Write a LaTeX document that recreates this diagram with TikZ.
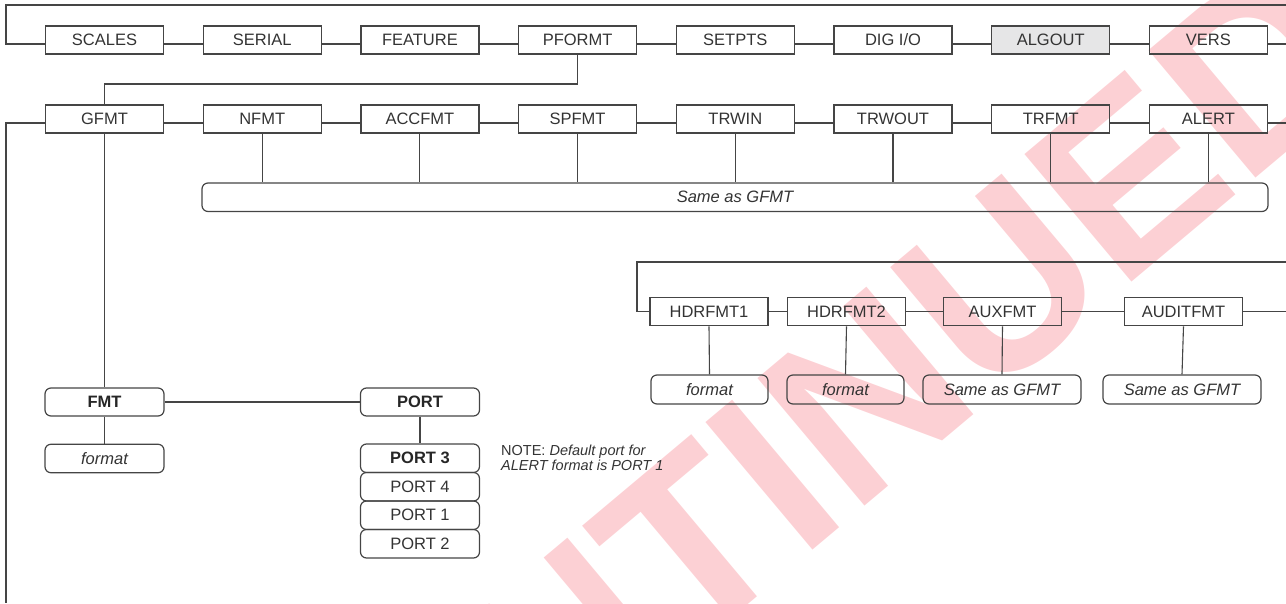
\documentclass[tikz,border=0pt]{standalone}
\usepackage{fontspec}
\setmainfont{Liberation Sans}
\usetikzlibrary{calc}
\definecolor{txt}{HTML}{333333}
\definecolor{ln}{HTML}{454545}
\definecolor{wm}{RGB}{252,208,212}
\definecolor{hl}{HTML}{E6E6E7}
\begin{document}
\begin{tikzpicture}[x=1pt,y=-1pt,
  menubox/.style={draw=ln, line width=1.2pt, minimum width=118pt, minimum height=28pt,
    inner sep=0pt, text=txt, font=\fontsize{16.5}{18}\selectfont},
  optbox/.style={menubox, rounded corners=6pt},
  valbox/.style={optbox, font=\fontsize{16.5}{18}\selectfont\itshape},
  boldbox/.style={optbox, font=\fontsize{16.5}{18}\selectfont\bfseries, text=black!85},
  conn/.style={draw=ln, line width=1.1pt}]
\useasboundingbox (0,0) rectangle (1286,603);
% watermark
\begin{scope}
  \clip (0,0) rectangle (1286,603);
  \node[anchor=base, rotate=40, text=wm, inner sep=0pt,
    font=\fontsize{242}{242}\selectfont\bfseries] (wmk) at (672,668) {DISCONTINUED};
\end{scope}
% free-end coordinates
\coordinate (redge) at (1286,0);
\coordinate (ltop) at (6,5);
\coordinate (lbot) at (6,603);
\coordinate (pg) at (0,84);
\coordinate (bt) at (637,262);
% row 1
\node[menubox] (scales)  at (104.5,40) {SCALES};
\node[menubox] (serial)  at (262.2,40) {SERIAL};
\node[menubox] (feature) at (419.9,40) {FEATURE};
\node[menubox] (pformt)  at (577.6,40) {PFORMT};
\node[menubox] (setpts)  at (735.3,40) {SETPTS};
\node[menubox] (digio)   at (893,40) {DIG I/O};
\node[menubox, fill=hl] (algout) at (1050.7,40) {ALGOUT};
\node[menubox] (vers)    at (1208.4,40) {VERS};
\draw[conn] ([yshift=-4pt]scales.west) -| (ltop) -- (ltop -| redge);
\draw[conn] ([yshift=-4pt]scales.east) -- ([yshift=-4pt]serial.west);
\draw[conn] ([yshift=-4pt]serial.east) -- ([yshift=-4pt]feature.west);
\draw[conn] ([yshift=-4pt]feature.east) -- ([yshift=-4pt]pformt.west);
\draw[conn] ([yshift=-4pt]pformt.east) -- ([yshift=-4pt]setpts.west);
\draw[conn] ([yshift=-4pt]setpts.east) -- ([yshift=-4pt]digio.west);
\draw[conn] ([yshift=-4pt]digio.east) -- ([yshift=-4pt]algout.west);
\draw[conn] ([yshift=-4pt]algout.east) -- ([yshift=-4pt]vers.west);
\draw[conn] ([yshift=-4pt]vers.east) -- ([yshift=-4pt]vers.east -| redge);
% row 2
\node[menubox] (gfmt)   at (104.5,119) {GFMT};
\node[menubox] (nfmt)   at (262.2,119) {NFMT};
\node[menubox] (accfmt) at (419.9,119) {ACCFMT};
\node[menubox] (spfmt)  at (577.6,119) {SPFMT};
\node[menubox] (trwin)  at (735.3,119) {TRWIN};
\node[menubox] (trwout) at (893,119) {TRWOUT};
\node[menubox] (trfmt)  at (1050.7,119) {TRFMT};
\node[menubox] (alert)  at (1208.4,119) {ALERT};
\draw[conn] (pformt.south) -- (pformt.south |- pg) -| (gfmt.north);
\draw[conn] ([yshift=-4pt]gfmt.west) -| (lbot);
\draw[conn] ([yshift=-4pt]gfmt.east) -- ([yshift=-4pt]nfmt.west);
\draw[conn] ([yshift=-4pt]nfmt.east) -- ([yshift=-4pt]accfmt.west);
\draw[conn] ([yshift=-4pt]accfmt.east) -- ([yshift=-4pt]spfmt.west);
\draw[conn] ([yshift=-4pt]spfmt.east) -- ([yshift=-4pt]trwin.west);
\draw[conn] ([yshift=-4pt]trwin.east) -- ([yshift=-4pt]trwout.west);
\draw[conn] ([yshift=-4pt]trwout.east) -- ([yshift=-4pt]trfmt.west);
\draw[conn] ([yshift=-4pt]trfmt.east) -- ([yshift=-4pt]alert.west);
\draw[conn] ([yshift=-4pt]alert.east) -- ([yshift=-4pt]alert.east -| redge);
% same as GFMT bar
\node[valbox, minimum width=1066pt, minimum height=28.5pt] (same) at (735,197.25) {Same as GFMT};
\foreach \n in {nfmt,accfmt,spfmt,trwin,trwout,trfmt,alert}
  \draw[conn] (\n.south) -- (\n.south |- same.north);
% FMT / PORT
\node[boldbox, minimum width=119pt] (fmt) at (104.5,402) {FMT};
\node[boldbox, minimum width=119pt] (port) at (420,402) {PORT};
\node[valbox, minimum width=119pt, minimum height=28.5pt] (fmtval) at (104.5,458.5) {format};
\node[boldbox, minimum width=119pt, minimum height=28.5pt] (p3) at (420,458.25) {PORT 3};
\node[optbox, minimum width=119pt, minimum height=28.5pt] (p4) at (420,486.75) {PORT 4};
\node[optbox, minimum width=119pt, minimum height=28.5pt] (p1) at (420,515.25) {PORT 1};
\node[optbox, minimum width=119pt, minimum height=28.5pt] (p2) at (420,543.75) {PORT 2};
\draw[conn] (gfmt.south) -- (fmt.north);
\draw[conn] (fmt.east) -- (port.west);
\draw[conn] (fmt.south) -- (fmtval.north);
\draw[conn] (port.south) -- (p3.north);
\node[anchor=north west, inner sep=0pt, align=left, text=txt,
  font=\fontsize{14.5}{15}\selectfont] (note) at (501,445) {NOTE: \textit{Default port for}\\\textit{ALERT format is PORT 1}};
% header formats
\node[menubox, minimum height=28.5pt] (hdr1)  at (709,311.5) {HDRFMT1};
\node[menubox, minimum height=28.5pt] (hdr2)  at (846.5,311.5) {HDRFMT2};
\node[menubox, minimum height=28.5pt] (aux)   at (1002.5,311.5) {AUXFMT};
\node[menubox, minimum height=28.5pt] (audit) at (1183.5,311.5) {AUDITFMT};
\draw[conn] (hdr1.west) -| (bt) -- (bt -| redge);
\draw[conn] (hdr1.east) -- (hdr2.west);
\draw[conn] (hdr2.east) -- (aux.west);
\draw[conn] (aux.east) -- (audit.west);
\draw[conn] (audit.east) -- (audit.east -| redge);
\node[valbox, minimum width=117pt, minimum height=29pt] (f1) at (709.5,389.5) {format};
\node[valbox, minimum width=117pt, minimum height=29pt] (f2) at (845.5,389.5) {format};
\node[valbox, minimum width=158pt, minimum height=29pt] (s1) at (1002,389.5) {Same as GFMT};
\node[valbox, minimum width=158pt, minimum height=29pt] (s2) at (1182,389.5) {Same as GFMT};
\draw[conn] (hdr1.south) -- (f1.north);
\draw[conn] (hdr2.south) -- (f2.north);
\draw[conn] (aux.south) -- (s1.north);
\draw[conn] (audit.south) -- (s2.north);
\end{tikzpicture}
\end{document}
